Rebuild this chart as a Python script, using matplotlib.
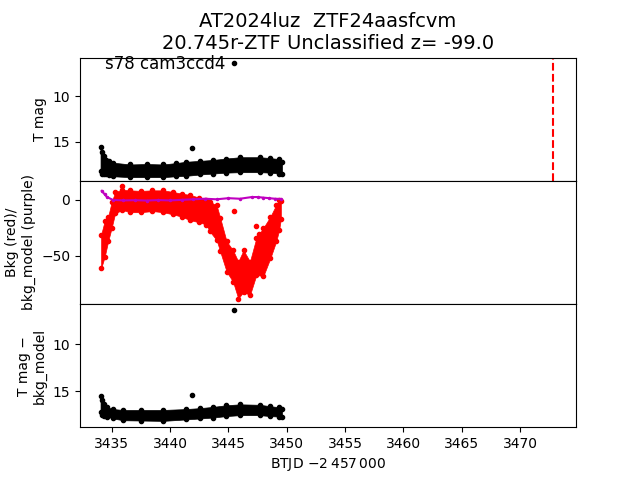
import matplotlib
matplotlib.use('Agg')
import matplotlib.pyplot as plt

# --- light curve (BTJD - 2457000) ---
# T mag band: time, upper edge (bright), lower edge (faint)
tmag_t = [3434.05, 3434.15, 3434.35, 3434.55, 3434.8, 3435.1, 3436.6, 3438.0, 3439.4,
          3440.5, 3441.4, 3442.6, 3443.7, 3444.8, 3446.0, 3447.7, 3448.6, 3449.3, 3449.6]
tmag_hi = [15.6, 16.1, 16.6, 17.0, 17.1, 17.3, 17.5, 17.45, 17.5,
           17.35, 17.2, 17.1, 17.0, 16.85, 16.7, 16.7, 16.8, 16.9, 17.2]
tmag_lo = [18.2, 18.5, 18.6, 18.6, 18.7, 18.8, 18.9, 18.9, 18.9,
           18.8, 18.75, 18.6, 18.5, 18.4, 18.35, 18.35, 18.4, 18.5, 18.55]
tmag_out_t = [3441.9, 3445.48]
tmag_out = [15.69, 6.32]

# background band and model
bkg_t = [3434.1, 3434.4, 3434.7, 3435.0, 3435.3, 3435.9, 3436.6, 3437.5, 3438.5, 3439.4,
         3440.3, 3441.0, 3441.7, 3442.5, 3443.1, 3443.4, 3444.0, 3444.3, 3444.85, 3445.4,
         3445.85, 3446.3, 3446.85, 3447.4, 3448.0, 3448.6, 3449.1, 3449.35, 3449.5]
bkg_hi = [-31, -19, -15, -2, 7, 9, 8.5, 8, 8.5, 8.5,
          7, 5.5, 4.5, 2, 0, -1.5, -5, -16, -37, -45,
          -55, -45, -55, -34, -25, -15, -4.5, 0, -1]
bkg_lo = [-61, -51, -37, -25, -12, -9, -11, -11, -10, -11,
          -13, -15, -18, -20, -22, -28, -36, -46, -64, -73,
          -88, -82, -85, -67, -68, -52, -37, -27, -17]
bkg_out_t = [3435.86, 3445.48, 3447.4, 3447.65]
bkg_out = [12.5, -10.0, -23.5, -30.5]
model_t = [3434.15, 3434.4, 3434.6, 3435.1, 3436.0, 3437.0, 3438.0, 3439.0, 3440.0, 3441.0,
           3442.0, 3443.0, 3444.0, 3445.0, 3446.0, 3447.0, 3447.5, 3448.0, 3448.5, 3449.0, 3449.5]
model = [8, 5, 2.5, 0, -0.5, -0.3, -0.6, -0.2, -0.5, 0,
         0.5, 1, 0.5, 1.5, 1, 2.5, 2.5, 2, 1.5, 1, 0.8]

# T mag - bkg_model band
corr_t = [3434.05, 3434.15, 3434.35, 3434.6, 3435.1, 3436.0, 3437.5, 3439.4, 3441.4,
          3442.6, 3443.7, 3444.8, 3446.0, 3447.7, 3448.6, 3449.3, 3449.6]
corr_hi = [15.55, 15.9, 16.4, 16.7, 16.9, 17.0, 17.0, 17.0, 16.9,
           16.8, 16.67, 16.5, 16.4, 16.45, 16.6, 16.7, 16.9]
corr_lo = [17.2, 17.5, 17.6, 17.7, 17.9, 18.09, 18.12, 18.16, 18.0,
           17.9, 17.8, 17.65, 17.55, 17.55, 17.65, 17.7, 17.75]
corr_out_t = [3441.9, 3445.48]
corr_out = [15.43, 6.38]

disc_time = 3472.8

fig, axes = plt.subplots(3, 1, sharex=True, figsize=(6.4, 4.8))
fig.subplots_adjust(hspace=0)
ax1, ax2, ax3 = axes

# top: T mag
ax1.fill_between(tmag_t, tmag_hi, tmag_lo, color='k', lw=0.5)
ax1.plot(tmag_t, tmag_hi, 'k.')
ax1.plot(tmag_t, tmag_lo, 'k.')
ax1.plot(tmag_out_t, tmag_out, 'k.')
ax1.axvline(disc_time, color='r', ls='--', lw=1.5)
ax1.set_ylim(19.3, 5.73)
ax1.set_ylabel('T mag')
ax1.text(0.05, 0.95, 's78 cam3ccd4', transform=ax1.transAxes, fontsize=12, va='center')
ax1.set_title('AT2024luz  ZTF24aasfcvm\n20.745r-ZTF Unclassified z= -99.0', fontsize=14)

# middle: background
ax2.fill_between(bkg_t, bkg_hi, bkg_lo, color='r', lw=0.5)
ax2.plot(bkg_t, bkg_hi, 'r.')
ax2.plot(bkg_t, bkg_lo, 'r.')
ax2.plot(bkg_out_t, bkg_out, 'r.')
ax2.plot(model_t, model, 'm.-', ms=3, lw=1.5)
ax2.set_ylim(-92.9, 17)
ax2.set_ylabel('Bkg (red)/\nbkg_model (purple)')

# bottom: corrected mag
ax3.fill_between(corr_t, corr_hi, corr_lo, color='k', lw=0.5)
ax3.plot(corr_t, corr_hi, 'k.')
ax3.plot(corr_t, corr_lo, 'k.')
ax3.plot(corr_out_t, corr_out, 'k.')
ax3.set_ylim(18.83, 5.74)
ax3.set_ylabel('T mag \u2212\nbkg_model')
ax3.set_xlabel('BTJD $-$2\u2009457\u2009000')

ax3.set_xlim(3432.29, 3474.79)

plt.savefig('out.png', dpi=100)
